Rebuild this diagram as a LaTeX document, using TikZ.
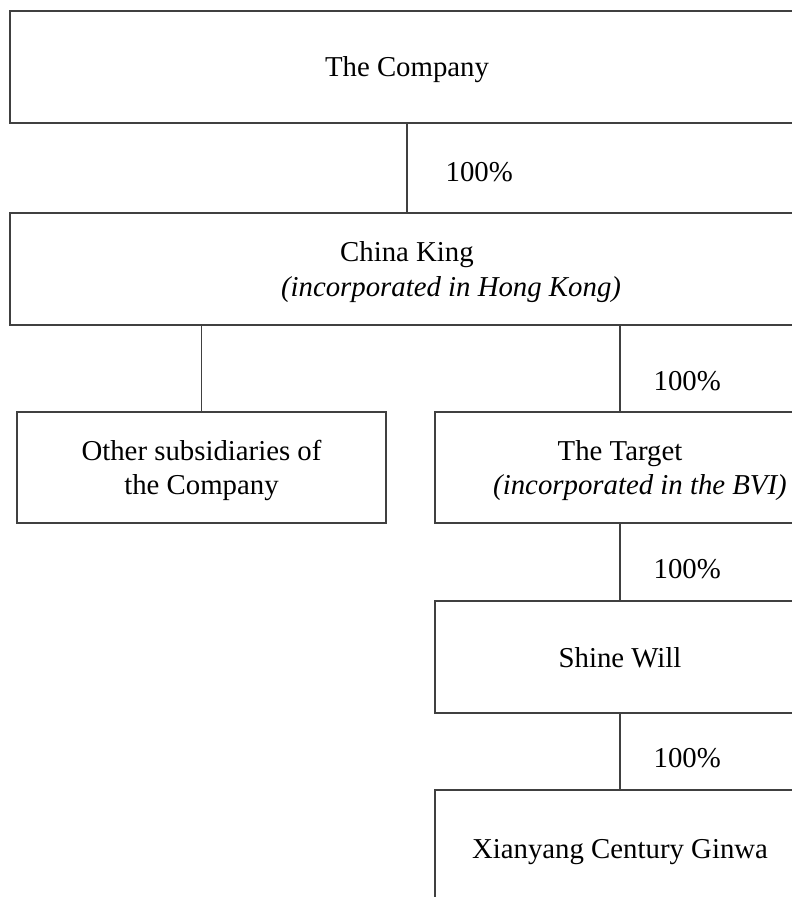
\documentclass[tikz,border=0pt]{standalone}
\usepackage{fontspec}
\setmainfont{Liberation Serif}
\usetikzlibrary{positioning}

\tikzset{
  entity/.style={draw=black!75, line width=1.2pt, minimum height=112pt,
    inner sep=0pt, align=center, text depth=0pt,
    font=\fontsize{28.8}{34.5}\selectfont},
  holding/.style={draw=black!75, line width=1.2pt},
  pct/.style={anchor=west, inner sep=0pt, font=\fontsize{28.8}{34.5}\selectfont}
}

\begin{document}
\begin{tikzpicture}[x=1pt,y=-1pt]
  \useasboundingbox (0,0) rectangle (792,897);
  % group entities
  \node[entity, minimum width=794pt] (company) at (407,67) {The Company};
  \node[entity, minimum width=794pt] (chinaking) at (407,269)
    {China King\\ \hspace*{88pt}\textit{(incorporated in Hong Kong)}};
  \node[entity, minimum width=369pt, minimum height=111pt] (others) at (201.5,467.5)
    {Other subsidiaries of\\the Company};
  \node[entity, minimum width=370pt, minimum height=111pt] (target) at (620,467.5)
    {The Target\\ \hspace*{40pt}\textit{(incorporated in the BVI)}};
  \node[entity, minimum width=370pt] (shinewill) at (620,657) {Shine Will};
  \node[entity, minimum width=370pt, minimum height=118pt] (ginwa) at (620,849)
    {Xianyang Century Ginwa};
  % shareholdings
  \draw[holding] (company) -- (chinaking)
    node[pct, midway, xshift=38pt, yshift=-4pt] {100\%};
  \draw[holding] (chinaking.south -| others) -- (others.north);
  \draw[holding] (chinaking.south -| target) -- (target.north)
    node[pct, midway, xshift=33pt, yshift=-13pt] {100\%};
  \draw[holding] (target) -- (shinewill)
    node[pct, midway, xshift=33pt, yshift=-7pt] {100\%};
  \draw[holding] (shinewill) -- (ginwa)
    node[pct, midway, xshift=33pt, yshift=-7pt] {100\%};
\end{tikzpicture}
\end{document}
